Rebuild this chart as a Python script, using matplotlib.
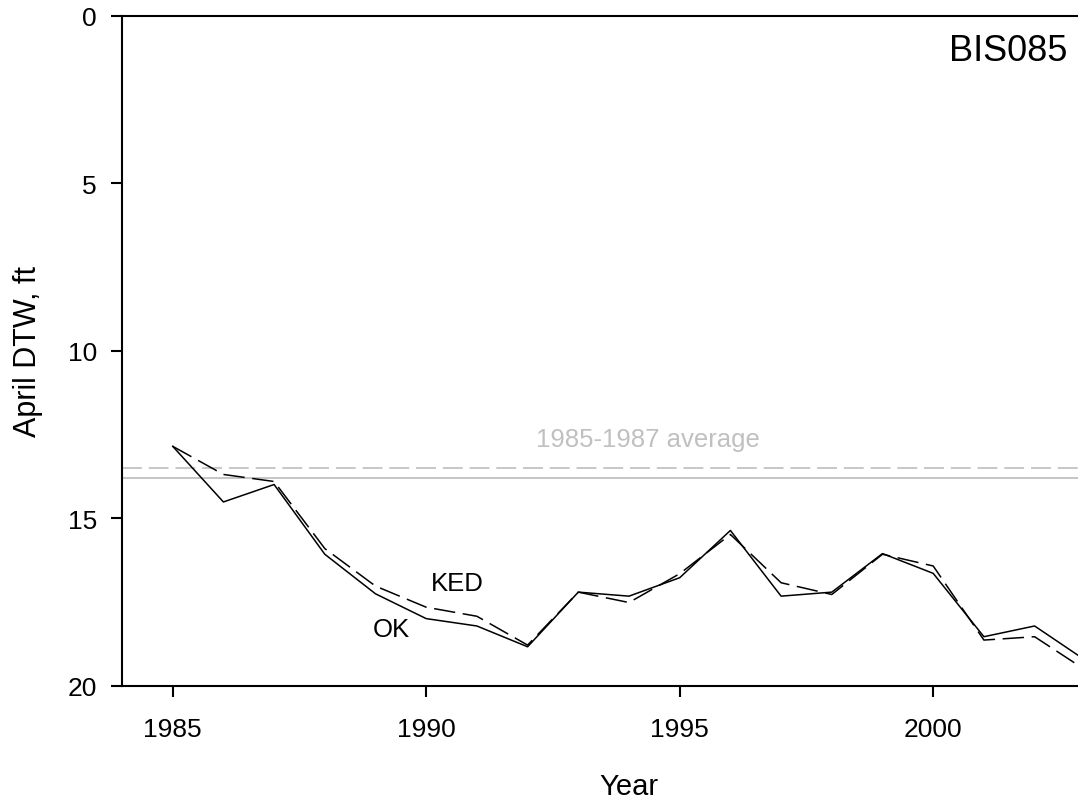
import matplotlib
matplotlib.use("Agg")
import matplotlib.pyplot as plt

plt.rcParams['font.family'] = ['Liberation Sans', 'DejaVu Sans']

years = [1985, 1986, 1987, 1988, 1989, 1990, 1991, 1992, 1993, 1994,
         1995, 1996, 1997, 1998, 1999, 2000, 2001, 2002, 2003]
ok_dtw = [12.85, 14.51, 13.99, 16.07, 17.25, 17.99, 18.21, 18.83, 17.20, 17.32,
          16.77, 15.36, 17.32, 17.20, 16.05, 16.64, 18.53, 18.21, 19.23]
ked_dtw = [12.85, 13.69, 13.90, 15.90, 17.02, 17.65, 17.92, 18.78, 17.20, 17.51,
           16.65, 15.48, 16.92, 17.27, 16.07, 16.42, 18.63, 18.53, 19.52]
avg_ok = 13.80
avg_ked = 13.51
xticks = [1985, 1990, 1995, 2000]
yticks = [0, 5, 10, 15, 20]

W, H = 1078, 803
fig = plt.figure(figsize=(W / 100, H / 100), dpi=100)
left_px, right_px, top_px, bot_px = 122, 1136, 16.5, 687
ax = fig.add_axes([left_px / W, 1 - bot_px / H, (right_px - left_px) / W, (bot_px - top_px) / H])

ax.axhline(avg_ked, color='#b8b8b8', lw=1.1, dashes=(13, 4.5))
ax.axhline(avg_ok, color='#c0c0c0', lw=1.3)
ax.plot(years, ok_dtw, color='black', lw=1.1)
ax.plot(years, ked_dtw, color='black', lw=1.1, dashes=(14, 5))

ax.set_xlim(1984, 2004)
ax.set_ylim(20, 0)
ax.set_xticks(xticks)
ax.set_yticks(yticks)

for s in ['left', 'top', 'bottom']:
    ax.spines[s].set_linewidth(1.5)
ax.spines['right'].set_visible(False)

ax.tick_params(axis='both', direction='out', length=8, width=1.5, labelsize=19)
ax.tick_params(axis='x', pad=14)
ax.tick_params(axis='y', pad=10)

ax.set_xlabel('Year', fontsize=21, labelpad=23)
ax.set_ylabel('April DTW, ft', fontsize=22, labelpad=18)


def px(xp, yp):
    return fig.transFigure.inverted().transform((xp, H - yp))


kx, ky = px(457, 584)
fig.text(kx, ky, 'KED', fontsize=18.5, ha='center', va='center')
ox, oy = px(391, 630)
fig.text(ox, oy, 'OK', fontsize=18.5, ha='center', va='center')
fx, fy = px(648, 440)
fig.text(fx, fy, '1985-1987 average', fontsize=18.5, color='#c0c0c0', ha='center', va='center')
bx, by = px(1067, 52)
fig.text(bx, by, 'BIS085', fontsize=26, ha='right', va='center')

fig.savefig('out.png', dpi=100)
